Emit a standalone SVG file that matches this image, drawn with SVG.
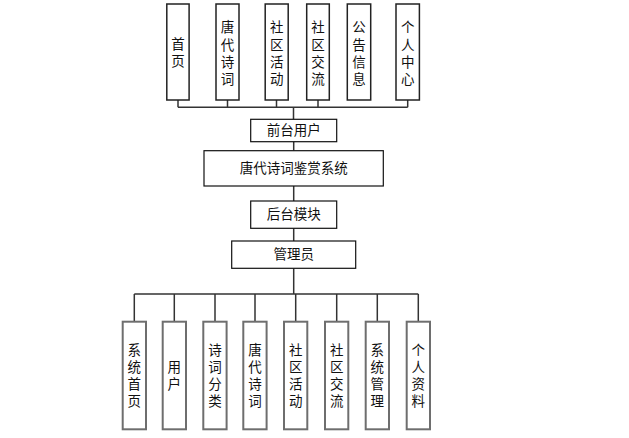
<svg xmlns="http://www.w3.org/2000/svg" width="629" height="438" viewBox="0 0 629 438">
<style>
text{font-family:"Liberation Sans","Noto Sans CJK SC","Noto Sans CJK JP",sans-serif;font-size:13.5px;fill:#111;text-anchor:middle;dominant-baseline:central}
.top{fill:#fff;stroke:#222;stroke-width:1.5}
.mid{fill:#fff;stroke:#111;stroke-width:1.2}
.bot{fill:#fff;stroke:#6e6e6e;stroke-width:2}
.ln{fill:none;stroke:#333;stroke-width:1.5}
</style>
<rect width="629" height="438" fill="#fff"/>
<g id="connectors">
<path class="ln" d="M178,100V107.3M227.5,100V107.3M276.5,100V107.3M318,100V107.3M407.7,100V107.3M178,107.3H407.7M293.5,107.3V119.5"/>
<path class="ln" d="M293.7,141.7V150.7M293.7,186V201M293.7,228.3V241M293.7,268.3V294M134.3,294H418.3"/>
<path class="ln" d="M134.3,294V321.7M174.3,294V321.7M215,294V321.7M255,294V321.7M295.7,294V321.7M336.7,294V321.7M377.3,294V321.7M418.3,294V321.7"/>
</g>
<g id="n-shouye"><rect class="top" x="166.8" y="4" width="22.3" height="96"/><text x="178" y="44">首<tspan x="178" dy="17">页</tspan></text></g>
<g id="n-tangdaishici"><rect class="top" x="216" y="4" width="23" height="96"/><text x="227.5" y="27.5">唐<tspan x="227.5" dy="17">代</tspan><tspan x="227.5" dy="17">诗</tspan><tspan x="227.5" dy="17">词</tspan></text></g>
<g id="n-shequhuodong"><rect class="top" x="265.2" y="4" width="23" height="96"/><text x="276.7" y="27.5">社<tspan x="276.7" dy="17">区</tspan><tspan x="276.7" dy="17">活</tspan><tspan x="276.7" dy="17">动</tspan></text></g>
<g id="n-shequjiaoliu"><rect class="top" x="306.7" y="4" width="22.6" height="96"/><text x="318" y="27.5">社<tspan x="318" dy="17">区</tspan><tspan x="318" dy="17">交</tspan><tspan x="318" dy="17">流</tspan></text></g>
<g id="n-gonggao"><rect class="top" x="347.3" y="4" width="23.4" height="96"/><text x="359" y="27.5">公<tspan x="359" dy="17">告</tspan><tspan x="359" dy="17">信</tspan><tspan x="359" dy="17">息</tspan></text></g>
<g id="n-gerenzhongxin"><rect class="top" x="396" y="4" width="23.4" height="96"/><text x="407.7" y="27.5">个<tspan x="407.7" dy="17">人</tspan><tspan x="407.7" dy="17">中</tspan><tspan x="407.7" dy="17">心</tspan></text></g>
<g id="n-qiantai"><rect class="mid" x="250.7" y="119.3" width="86" height="22.4"/><text x="293.7" y="130.5">前台用户</text></g>
<g id="n-system"><rect class="mid" x="204" y="150.7" width="179.3" height="35.3"/><text x="293.7" y="168.4">唐代诗词鉴赏系统</text></g>
<g id="n-houtai"><rect class="mid" x="250.7" y="201" width="86" height="27.3"/><text x="293.7" y="214.7">后台模块</text></g>
<g id="n-admin"><rect class="mid" x="231.7" y="241" width="124" height="27.3"/><text x="293.7" y="254.7">管理员</text></g>
<g id="n-xitongshouye"><rect class="bot" x="122.7" y="321.7" width="23.3" height="107.6"/><text x="134.3" y="350">系<tspan x="134.3" dy="17">统</tspan><tspan x="134.3" dy="17">首</tspan><tspan x="134.3" dy="17">页</tspan></text></g>
<g id="n-yonghu"><rect class="bot" x="162.7" y="321.7" width="23.3" height="107.6"/><text x="174.3" y="367">用<tspan x="174.3" dy="17">户</tspan></text></g>
<g id="n-shicifenlei"><rect class="bot" x="203.3" y="321.7" width="23.3" height="107.6"/><text x="215" y="350">诗<tspan x="215" dy="17">词</tspan><tspan x="215" dy="17">分</tspan><tspan x="215" dy="17">类</tspan></text></g>
<g id="n-tangdaishici2"><rect class="bot" x="243.3" y="321.7" width="23.3" height="107.6"/><text x="255" y="350">唐<tspan x="255" dy="17">代</tspan><tspan x="255" dy="17">诗</tspan><tspan x="255" dy="17">词</tspan></text></g>
<g id="n-shequhuodong2"><rect class="bot" x="284" y="321.7" width="23.3" height="107.6"/><text x="295.7" y="350">社<tspan x="295.7" dy="17">区</tspan><tspan x="295.7" dy="17">活</tspan><tspan x="295.7" dy="17">动</tspan></text></g>
<g id="n-shequjiaoliu2"><rect class="bot" x="325" y="321.7" width="23.3" height="107.6"/><text x="336.7" y="350">社<tspan x="336.7" dy="17">区</tspan><tspan x="336.7" dy="17">交</tspan><tspan x="336.7" dy="17">流</tspan></text></g>
<g id="n-xitongguanli"><rect class="bot" x="365.7" y="321.7" width="23.3" height="107.6"/><text x="377.3" y="350">系<tspan x="377.3" dy="17">统</tspan><tspan x="377.3" dy="17">管</tspan><tspan x="377.3" dy="17">理</tspan></text></g>
<g id="n-gerenziliao"><rect class="bot" x="406.7" y="321.7" width="23.3" height="107.6"/><text x="418.3" y="350">个<tspan x="418.3" dy="17">人</tspan><tspan x="418.3" dy="17">资</tspan><tspan x="418.3" dy="17">料</tspan></text></g>
</svg>
